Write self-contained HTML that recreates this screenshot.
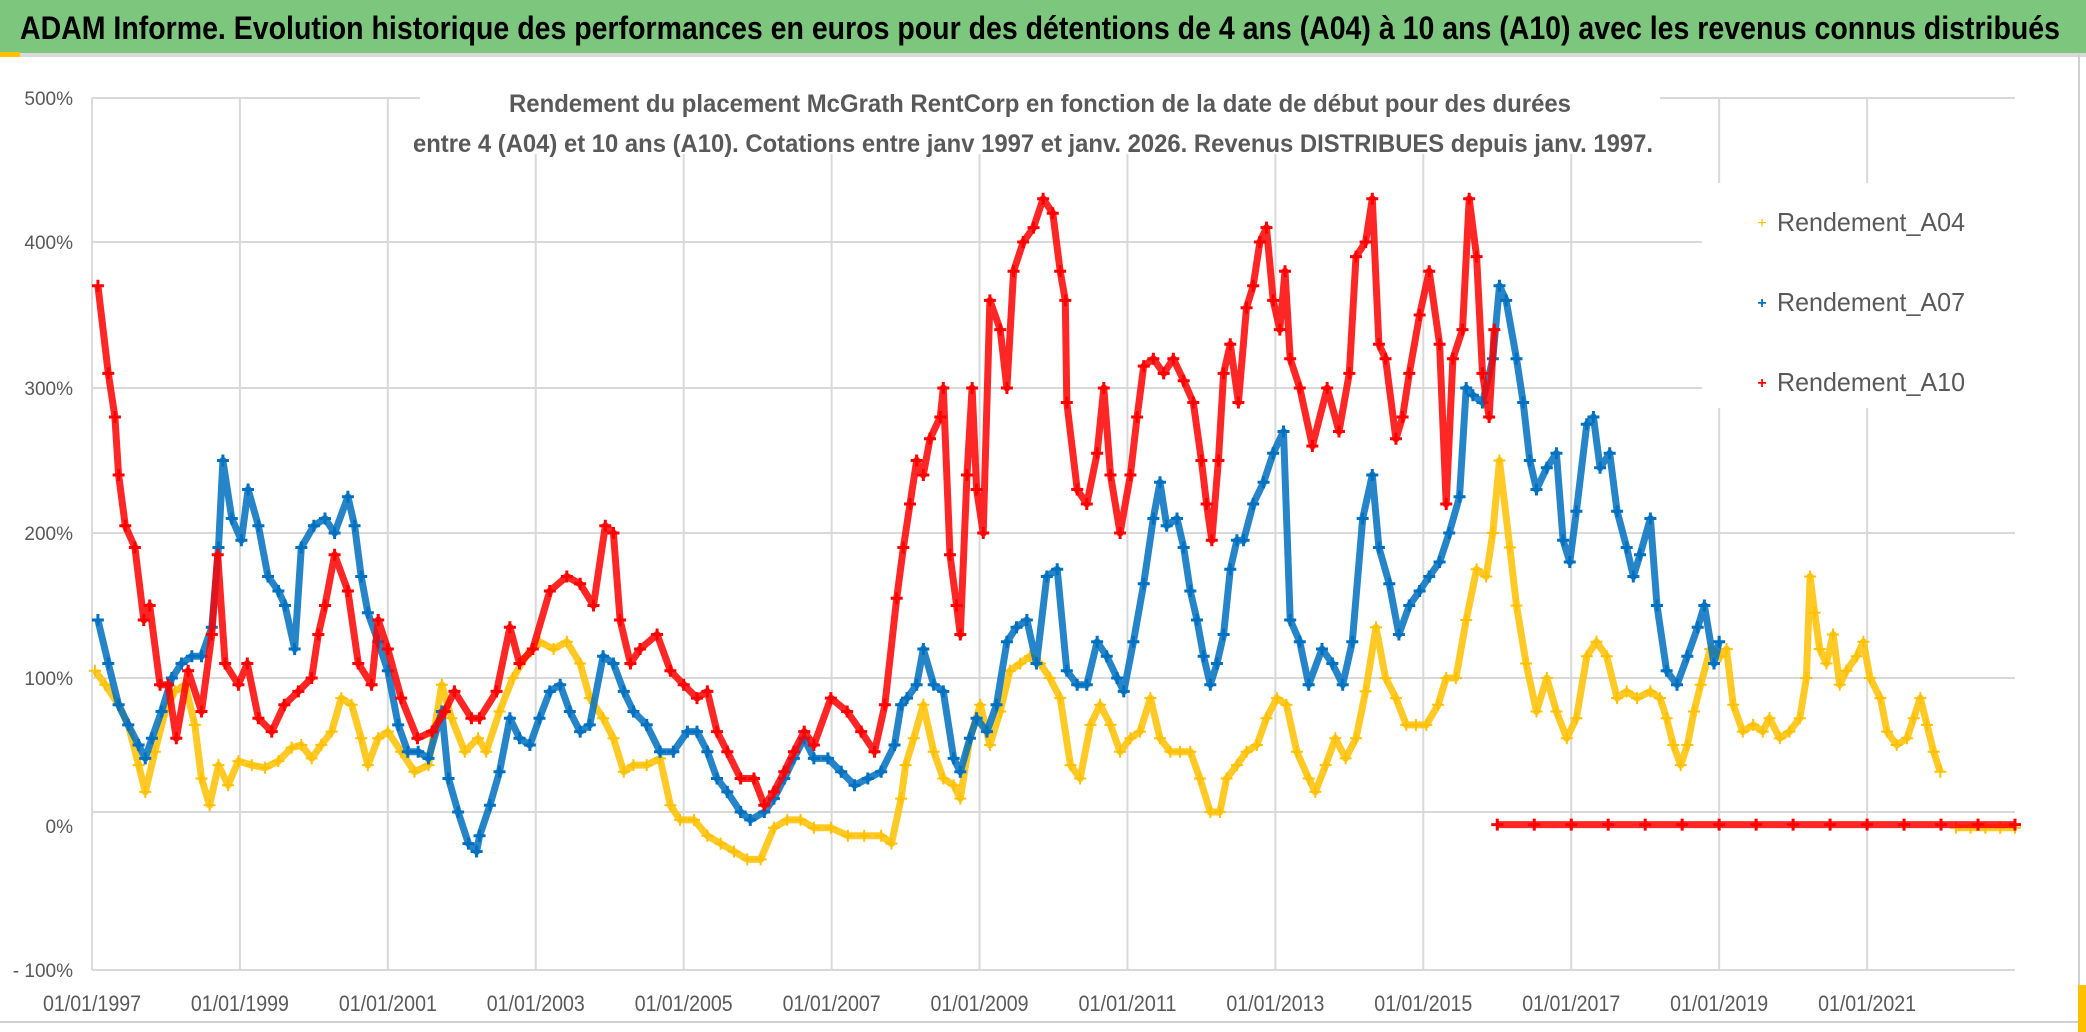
<!DOCTYPE html>
<html><head><meta charset="utf-8"><style>
html,body{margin:0;padding:0;background:#fff;}
svg{display:block;font-family:"Liberation Sans",sans-serif;}
</style></head><body>
<svg id="chart" width="2086" height="1032" viewBox="0 0 2086 1032">
<rect x="0" y="0" width="2086" height="1032" fill="#fff"/>
<rect x="0" y="0" width="2086" height="53" fill="#7DC67E"/>
<rect x="0" y="53" width="2086" height="4" fill="#d9d9d9"/>
<rect x="0" y="52" width="20" height="5" fill="#FFC000"/>
<rect x="2078" y="55" width="2" height="967" fill="#d0d0d0"/>
<rect x="0" y="1021" width="2080" height="2" fill="#d0d0d0"/>
<rect x="2078" y="985" width="8" height="47" fill="#FFC000"/>
<text x="20" y="39" font-size="32" font-weight="bold" fill="#000" textLength="2040" lengthAdjust="spacingAndGlyphs">ADAM Informe. Evolution historique des performances en euros pour des détentions de 4 ans (A04) à 10 ans (A10) avec les revenus connus distribués</text>
<g id="grid"></g>
<g id="series"></g>
<rect x="420" y="78" width="1240" height="76" fill="#fff"/>
<text x="1040" y="112" font-size="25" font-weight="bold" fill="#595959" text-anchor="middle" textLength="1062" lengthAdjust="spacingAndGlyphs">Rendement du placement McGrath RentCorp en fonction de la date de début pour des durées</text>
<text x="1033" y="152" font-size="25" font-weight="bold" fill="#595959" text-anchor="middle" textLength="1240" lengthAdjust="spacingAndGlyphs">entre 4 (A04) et 10 ans (A10). Cotations entre janv 1997 et janv. 2026. Revenus DISTRIBUES depuis janv. 1997.</text>
<g id="legend">
<rect x="1702" y="183" width="316" height="225" fill="#fff"/>
<g><text x="1762" y="228" font-size="16" fill="#FFC000" text-anchor="middle">+</text><text x="1777" y="231" font-size="26" fill="#595959" textLength="188" lengthAdjust="spacingAndGlyphs">Rendement_A04</text></g>
<g><text x="1762" y="308" font-size="16" fill="#0070C0" text-anchor="middle" font-weight="bold">+</text><text x="1777" y="311" font-size="26" fill="#595959" textLength="188" lengthAdjust="spacingAndGlyphs">Rendement_A07</text></g>
<g><text x="1762" y="388" font-size="16" fill="#FF0000" text-anchor="middle" font-weight="bold">+</text><text x="1777" y="391" font-size="26" fill="#595959" textLength="188" lengthAdjust="spacingAndGlyphs">Rendement_A10</text></g>
</g>
<g id="yaxis"></g>
<g id="xaxis"></g>
</svg>
<script>
const yTickValues=[-100,0,100,200,300,400,500];
const yTickLabels=["- 100%","0%","100%","200%","300%","400%","500%"];
const xTickYears=[1997,1999,2001,2003,2005,2007,2009,2011,2013,2015,2017,2019,2021];
const xTickLabels=["01/01/1997","01/01/1999","01/01/2001","01/01/2003","01/01/2005","01/01/2007","01/01/2009","01/01/2011","01/01/2013","01/01/2015","01/01/2017","01/01/2019","01/01/2021"];

const yearsA04=[1997.04,1997.18,1997.36,1997.49,1997.63,1997.72,1997.85,1997.99,1998.12,1998.26,1998.39,1998.48,1998.59,1998.71,1998.84,1998.98,1999.16,1999.34,1999.52,1999.7,1999.83,1999.97,2000.1,2000.24,2000.37,2000.51,2000.64,2000.73,2000.87,2001.0,2001.18,2001.36,2001.55,2001.73,2001.86,2002.04,2002.22,2002.33,2002.51,2002.69,2002.87,2003.05,2003.24,2003.42,2003.6,2003.73,2003.91,2004.05,2004.19,2004.32,2004.5,2004.68,2004.82,2004.95,2005.14,2005.32,2005.5,2005.68,2005.86,2006.04,2006.22,2006.4,2006.58,2006.76,2006.99,2007.22,2007.44,2007.67,2007.81,2007.94,2008.0,2008.11,2008.24,2008.38,2008.51,2008.65,2008.74,2008.87,2009.01,2009.14,2009.28,2009.41,2009.55,2009.68,2009.82,2009.95,2010.09,2010.23,2010.36,2010.5,2010.63,2010.77,2010.9,2011.04,2011.17,2011.31,2011.44,2011.58,2011.71,2011.85,2011.98,2012.12,2012.25,2012.34,2012.48,2012.61,2012.75,2012.88,2013.02,2013.15,2013.29,2013.45,2013.54,2013.68,2013.81,2013.95,2014.09,2014.22,2014.36,2014.49,2014.63,2014.77,2014.9,2015.04,2015.2,2015.31,2015.44,2015.58,2015.72,2015.85,2015.94,2016.03,2016.17,2016.26,2016.39,2016.53,2016.67,2016.8,2016.94,2017.07,2017.21,2017.34,2017.48,2017.62,2017.75,2017.89,2018.07,2018.2,2018.29,2018.38,2018.48,2018.57,2018.66,2018.75,2018.88,2019.02,2019.1,2019.19,2019.32,2019.46,2019.59,2019.68,2019.82,2019.95,2020.09,2020.18,2020.23,2020.29,2020.36,2020.45,2020.54,2020.63,2020.72,2020.86,2020.95,2021.04,2021.18,2021.27,2021.4,2021.54,2021.63,2021.72,2021.81,2021.9,2021.99,2022.2,2022.4,2022.6,2022.8,2023.0];
const valuesA04=[105,95,80,65,35,15,45,75,90,95,65,25,5,35,20,38,35,33,38,48,50,40,50,60,85,80,55,35,55,60,45,30,35,95,70,45,55,45,75,100,115,125,120,125,110,85,70,55,30,35,35,40,5,-5,-5,-15,-20,-25,-30,-30,-10,-5,-5,-10,-10,-15,-15,-15,-20,10,35,55,80,45,25,20,10,55,80,50,75,105,110,115,110,100,85,35,25,65,80,65,45,55,60,85,55,45,45,45,25,0,0,25,35,45,50,70,85,80,45,25,15,35,55,40,55,90,135,100,85,65,65,65,80,100,100,140,175,170,200,250,190,150,110,75,100,75,55,70,115,125,115,85,90,85,90,85,70,50,35,50,75,95,120,115,120,80,60,65,60,70,55,60,70,100,170,145,120,110,130,95,105,115,125,100,85,60,50,55,70,85,65,45,30,-10,-10,-10,-10,-10];

const yearsA07=[1997.08,1997.22,1997.36,1997.49,1997.63,1997.72,1997.81,1997.94,1998.08,1998.21,1998.35,1998.48,1998.62,1998.71,1998.77,1998.89,1999.02,1999.11,1999.25,1999.38,1999.52,1999.61,1999.74,1999.83,2000.0,2000.15,2000.28,2000.46,2000.55,2000.64,2000.73,2000.87,2001.0,2001.14,2001.27,2001.41,2001.55,2001.73,2001.82,2001.95,2002.09,2002.2,2002.24,2002.38,2002.51,2002.65,2002.78,2002.92,2003.05,2003.19,2003.33,2003.46,2003.6,2003.73,2003.91,2004.05,2004.19,2004.32,2004.5,2004.68,2004.86,2005.05,2005.18,2005.32,2005.45,2005.59,2005.77,2005.9,2006.09,2006.22,2006.36,2006.49,2006.63,2006.76,2006.95,2007.13,2007.31,2007.49,2007.67,2007.85,2007.94,2008.02,2008.15,2008.24,2008.38,2008.51,2008.65,2008.74,2008.87,2008.96,2009.1,2009.23,2009.37,2009.5,2009.64,2009.77,2009.91,2010.05,2010.18,2010.32,2010.45,2010.59,2010.72,2010.86,2010.95,2011.08,2011.22,2011.35,2011.44,2011.53,2011.67,2011.76,2011.85,2011.94,2012.03,2012.12,2012.21,2012.3,2012.39,2012.48,2012.57,2012.7,2012.84,2012.97,2013.11,2013.2,2013.33,2013.45,2013.63,2013.77,2013.91,2014.04,2014.18,2014.31,2014.4,2014.54,2014.67,2014.81,2014.95,2015.08,2015.22,2015.35,2015.49,2015.58,2015.67,2015.8,2015.94,2016.03,2016.12,2016.26,2016.35,2016.44,2016.53,2016.67,2016.8,2016.89,2016.98,2017.07,2017.21,2017.3,2017.39,2017.52,2017.62,2017.75,2017.84,2017.93,2018.07,2018.16,2018.29,2018.43,2018.57,2018.71,2018.8,2018.93,2019.0];
const valuesA07=[140,110,80,65,50,40,55,75,100,110,115,115,135,190,250,210,195,230,205,170,160,150,120,190,205,210,200,225,205,170,145,125,105,65,45,45,40,75,25,0,-20,-25,-15,5,30,70,55,50,70,90,95,75,60,65,115,110,90,75,65,45,45,60,60,45,25,15,0,-5,0,10,25,40,55,40,40,30,20,25,30,50,80,85,95,120,95,90,40,30,55,70,60,80,125,135,140,110,170,175,105,95,95,125,115,100,90,125,165,210,235,205,210,190,160,140,115,95,110,130,175,195,195,220,235,255,270,140,125,95,120,110,95,125,210,240,190,165,130,150,160,170,180,200,225,300,295,290,320,370,360,320,290,250,230,245,255,195,180,215,275,280,245,255,215,190,170,185,210,150,105,95,115,135,150,110,125];

const yearsA10=[1997.08,1997.22,1997.31,1997.36,1997.45,1997.58,1997.7,1997.78,1997.92,1998.03,1998.14,1998.3,1998.48,1998.62,1998.7,1998.8,1998.98,1999.1,1999.25,1999.43,1999.6,1999.79,1999.97,2000.06,2000.15,2000.28,2000.46,2000.6,2000.78,2000.87,2001.0,2001.18,2001.4,2001.6,2001.77,2001.9,2002.13,2002.24,2002.47,2002.65,2002.78,2002.96,2003.19,2003.42,2003.6,2003.78,2003.94,2004.05,2004.14,2004.28,2004.41,2004.64,2004.82,2005.0,2005.18,2005.32,2005.45,2005.59,2005.77,2005.95,2006.09,2006.22,2006.36,2006.49,2006.63,2006.76,2006.99,2007.21,2007.4,2007.58,2007.72,2007.88,2007.97,2008.06,2008.15,2008.24,2008.33,2008.47,2008.51,2008.6,2008.69,2008.74,2008.83,2008.9,2008.96,2009.05,2009.14,2009.28,2009.37,2009.46,2009.59,2009.73,2009.86,2009.99,2010.09,2010.16,2010.18,2010.32,2010.45,2010.59,2010.68,2010.77,2010.9,2011.04,2011.13,2011.22,2011.35,2011.49,2011.62,2011.76,2011.89,2012.0,2012.07,2012.14,2012.23,2012.3,2012.39,2012.5,2012.61,2012.7,2012.79,2012.88,2012.97,2013.06,2013.13,2013.2,2013.33,2013.5,2013.7,2013.86,2014.0,2014.09,2014.22,2014.31,2014.4,2014.49,2014.63,2014.72,2014.81,2014.95,2015.08,2015.22,2015.31,2015.4,2015.53,2015.62,2015.72,2015.8,2015.89,2015.96,2016.0,2016.5,2017.0,2017.5,2018.0,2018.5,2019.0,2019.5,2020.0,2020.5,2021.0,2021.5,2022.0,2022.5,2023.0];
const valuesA10=[370,310,280,240,205,190,140,150,95,95,55,105,75,130,185,110,95,110,70,60,80,90,100,130,150,185,160,110,95,140,120,85,55,60,75,90,70,70,90,135,110,120,160,170,165,150,205,200,140,110,120,130,105,95,85,90,60,45,25,25,5,15,30,45,60,50,85,75,60,45,80,155,190,220,250,240,265,280,300,185,150,130,240,300,230,200,360,340,300,380,400,410,430,420,380,360,290,230,220,255,300,240,200,240,280,315,320,310,320,305,290,250,220,195,250,310,330,290,355,370,400,410,360,340,380,320,300,260,300,270,310,390,400,430,330,320,265,280,310,350,380,330,220,320,340,430,390,310,280,340,-8,-8,-8,-8,-8,-8,-8,-8,-8,-8,-8,-8,-8,-8,-8];

const X0=92, X1=2015, YEAR0=1997, YEAR1=2023;
const gridVals=[-100,0,100,200,300,400,500];
const gridYs=[970,812,678,533,388,242,98];
function xScale(yr){return X0+(yr-YEAR0)*(X1-X0)/(YEAR1-YEAR0);}
function yScale(v){
  for(let i=0;i<gridVals.length-1;i++){
    if(v<=gridVals[i+1]||i===gridVals.length-2){
      const t=(v-gridVals[i])/(gridVals[i+1]-gridVals[i]);
      return gridYs[i]+t*(gridYs[i+1]-gridYs[i]);
    }
  }
}
const NS="http://www.w3.org/2000/svg";
function mk(tag,attrs,parent){const e=document.createElementNS(NS,tag);for(const k in attrs)e.setAttribute(k,attrs[k]);parent.appendChild(e);return e;}
const grid=document.getElementById('grid');
yTickValues.forEach(v=>{
  const l=mk('line',{x1:X0,x2:X1,y1:yScale(v),y2:yScale(v),stroke:'#d9d9d9','stroke-width':2},grid);
  
  
});
xTickYears.forEach(yr=>{
  const l=mk('line',{x1:xScale(yr),x2:xScale(yr),y1:yScale(500),y2:yScale(-100),stroke:'#d9d9d9','stroke-width':2},grid);
  
  
});
const yax=document.getElementById('yaxis');
yTickValues.forEach((v,i)=>{
  const t=mk('text',{x:73,y:yScale(v)+7+(v===0?14:0),'font-size':19,fill:'#595959','text-anchor':'end'},yax);
  t.textContent=yTickLabels[i];
  
  
});
const xax=document.getElementById('xaxis');
xTickYears.forEach((yr,i)=>{
  const t=mk('text',{x:xScale(yr),y:1011,'font-size':22,fill:'#595959','text-anchor':'middle',textLength:98,lengthAdjust:'spacingAndGlyphs'},xax);
  t.textContent=xTickLabels[i];
  
  
});
const layer=document.getElementById('series');
function drawSeries(years,vals,color,name,sw){
  const g=mk('g',{},layer);
  
  
  let d='';
  years.forEach((yr,i)=>{
    // break the band where the series jumps onto the flat negative tail
    const brk=i>0 && ((vals[i]<0)!==(vals[i-1]<0)) && Math.abs(vals[i]-vals[i-1])>30;
    d+=((i===0||brk)?'M':'L')+xScale(yr).toFixed(1)+' '+yScale(vals[i]).toFixed(1);
  });
  const p=mk('path',{d:d,fill:'none',stroke:color,'stroke-width':7,'stroke-linejoin':'round','stroke-opacity':0.85},g);
  
  
  years.forEach((yr,i)=>{
    const x=xScale(yr),y=yScale(vals[i]);
    const m=mk('path',{d:`M${x-6} ${y}H${x+6}M${x} ${y-6}V${y+6}`,stroke:color,'stroke-width':sw},g);
    
    
  });
}
drawSeries(yearsA04,valuesA04,'#FFC000','series-a04',2);
drawSeries(yearsA07,valuesA07,'#0070C0','series-a07',3);
drawSeries(yearsA10,valuesA10,'#FF0000','series-a10',3);
</script>
</body></html>
